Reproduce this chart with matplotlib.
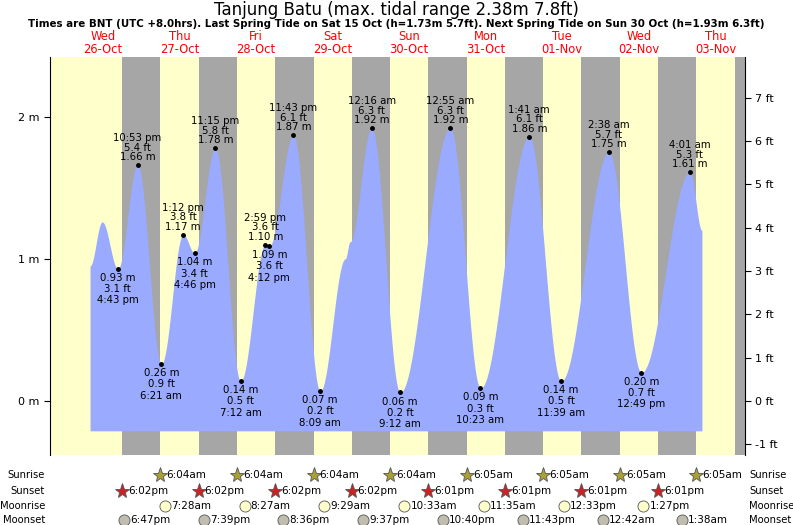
import numpy as np
import matplotlib
matplotlib.use("Agg")
import matplotlib.pyplot as plt

# hours since 00:00 Wed 26-Oct
tide_hours = [8.0, 11.8, 16.72, 22.88, 30.35, 37.2, 40.77, 47.25, 55.2, 62.98, 64.2, 71.72,
              80.15, 88.0, 89.5, 96.27, 105.2, 120.92, 130.38, 145.68, 155.65, 170.63, 180.82, 196.02, 199.8]
tide_m = [0.95, 1.26, 0.93, 1.66, 0.26, 1.17, 1.04, 1.78, 0.14, 1.10, 1.09, 1.87,
          0.07, 1.0, 1.12, 1.92, 0.06, 1.92, 0.09, 1.86, 0.14, 1.75, 0.20, 1.61, 1.2]
# labelled extremes
ext_hours = [16.72, 22.88, 30.35, 37.2, 40.77, 47.25, 55.2, 62.98, 64.2, 71.72, 80.15, 96.27,
             105.2, 120.92, 130.38, 145.68, 155.65, 170.63, 180.82, 196.02]
ext_m = [0.93, 1.66, 0.26, 1.17, 1.04, 1.78, 0.14, 1.10, 1.09, 1.87, 0.07, 1.92,
         0.06, 1.92, 0.09, 1.86, 0.14, 1.75, 0.20, 1.61]
ext_ft = ["3.1", "5.4", "0.9", "3.8", "3.4", "5.8", "0.5", "3.6", "3.6", "6.1", "0.2", "6.3",
          "0.2", "6.3", "0.3", "6.1", "0.5", "5.7", "0.7", "5.3"]
ext_time = ["4:43 pm", "10:53 pm", "6:21 am", "1:12 pm", "4:46 pm", "11:15 pm", "7:12 am", "2:59 pm",
            "4:12 pm", "11:43 pm", "8:09 am", "12:16 am", "9:12 am", "12:55 am", "10:23 am",
            "1:41 am", "11:39 am", "2:38 am", "12:49 pm", "4:01 am"]
ext_high = [False, True, False, True, False, True, False, True, False, True, False, True,
            False, True, False, True, False, True, False, True]

day_names = ["Wed", "Thu", "Fri", "Sat", "Sun", "Mon", "Tue", "Wed", "Thu"]
day_dates = ["26-Oct", "27-Oct", "28-Oct", "29-Oct", "30-Oct", "31-Oct", "01-Nov", "02-Nov", "03-Nov"]

sunrise_h = [24+6+4/60, 48+6+4/60, 72+6+4/60, 96+6+4/60, 120+6+5/60, 144+6+5/60, 168+6+5/60, 192+6+5/60]
sunrise_t = ["6:04am", "6:04am", "6:04am", "6:04am", "6:05am", "6:05am", "6:05am", "6:05am"]
sunset_h = [18+2/60, 42+2/60, 66+2/60, 90+2/60, 114+1/60, 138+1/60, 162+1/60, 186+1/60, 210+1/60]
sunset_t = ["6:02pm", "6:02pm", "6:02pm", "6:02pm", "6:01pm", "6:01pm", "6:01pm", "6:01pm"]
moonrise_h = [31+28/60, 56+27/60, 81+29/60, 106+33/60, 131+35/60, 156+33/60, 181+27/60]
moonrise_t = ["7:28am", "8:27am", "9:29am", "10:33am", "11:35am", "12:33pm", "1:27pm"]
moonset_h = [18+47/60, 43+39/60, 68+36/60, 93+37/60, 118+40/60, 143+43/60, 168+42/60, 193+38/60]
moonset_t = ["6:47pm", "7:39pm", "8:36pm", "9:37pm", "10:40pm", "11:43pm", "12:42am", "1:38am"]

hh = np.linspace(tide_hours[0], tide_hours[-1], 2000)
lv = np.empty_like(hh)
for i, h in enumerate(hh):
    k = min(np.searchsorted(tide_hours, h, side="right") - 1, len(tide_hours) - 2)
    h0, h1 = tide_hours[k], tide_hours[k+1]
    v0, v1 = tide_m[k], tide_m[k+1]
    f = (h - h0) / (h1 - h0)
    lv[i] = v0 + (v1 - v0) * (1 - np.cos(np.pi * f)) / 2

fig = plt.figure(figsize=(7.93, 5.25), dpi=100)
ax = fig.add_axes([50/793, 70/525, 695/793, 398/525])
xmin, xmax = -4.55, 213.3
ymin, ymax = -0.38, 2.42
ax.set_xlim(xmin, xmax)
ax.set_ylim(ymin, ymax)
ax.set_facecolor("#ffffcc")
nights = [(sunset_h[i], sunrise_h[i]) for i in range(8)] + [(sunset_h[8], xmax + 5)]
for a, b in nights:
    ax.axvspan(a, b, color="#a6a6a6", lw=0, zorder=0)
ax.fill_between(hh, -0.21, lv, color="#99aaff", lw=0, zorder=1)

fs = 7.3
for h, m, ft, t, hi in zip(ext_hours, ext_m, ext_ft, ext_time, ext_high):
    ax.plot(h, m, "o", color="black", ms=2.5, zorder=3)
    if hi:
        ax.annotate(f"{t}\n{ft} ft\n{m:.2f} m", (h, m), xytext=(0, 2), textcoords="offset points",
                    ha="center", va="bottom", fontsize=fs, linespacing=0.95, zorder=4)
    else:
        ax.annotate(f"{m:.2f} m\n{ft} ft\n{t}", (h, m), xytext=(0, -3), textcoords="offset points",
                    ha="center", va="top", fontsize=fs, linespacing=1.15, zorder=4)

ax.set_xticks([])
ax.set_yticks([0, 1, 2])
ax.set_yticklabels(["0 m", "1 m", "2 m"], fontsize=8)
ax.tick_params(axis="y", direction="out", length=4)
for s in ["top", "right", "bottom"]:
    ax.spines[s].set_visible(False)

ax2 = ax.twinx()
ax2.set_ylim(ymin * 3.28084, ymax * 3.28084)
ax2.set_yticks(range(-1, 8))
ax2.set_yticklabels([f"{v} ft" for v in range(-1, 8)], fontsize=8)
ax2.tick_params(axis="y", direction="out", length=4)
for s in ["top", "left", "bottom"]:
    ax2.spines[s].set_visible(False)

for i, (n, d) in enumerate(zip(day_names, day_dates)):
    ax.text(i*24 + 12, ymax + 0.01, f"{n}\n{d}", color="red", ha="center", va="bottom",
            fontsize=8.3, linespacing=1.0, clip_on=False)

fig.text(0.5, 1 - 10/525, "Tanjung Batu (max. tidal range 2.38m 7.8ft)", ha="center", va="center", fontsize=12)
fig.text(0.5, 1 - 24/525, "Times are BNT (UTC +8.0hrs). Last Spring Tide on Sat 15 Oct (h=1.73m 5.7ft). Next Spring Tide on Sun 30 Oct (h=1.93m 6.3ft)",
         ha="center", va="center", fontsize=7.4, fontweight="bold")

def xf(h):
    return (50 + (h - xmin) / (xmax - xmin) * 695) / 793

rows = [("Sunrise", 475, sunrise_h, sunrise_t, "*", "#aaa033", 11),
        ("Sunset", 491, sunset_h[:8], sunset_t, "*", "#cc2222", 11),
        ("Moonrise", 506, moonrise_h, moonrise_t, "o", "#ffffcc", 8),
        ("Moonset", 520, moonset_h, moonset_t, "o", "#c0bcb0", 8)]
for name, ypx, hs, ts, mk, col, ms in rows:
    yf = 1 - ypx/525
    fig.text(45/793, yf, name, ha="right", va="center", fontsize=7.2)
    fig.text(749/793, yf, name, ha="left", va="center", fontsize=7.2)
    for h, t in zip(hs, ts):
        fig.lines.append(plt.Line2D([xf(h)], [yf], marker=mk, color=col, markeredgecolor="#555555",
                                    markeredgewidth=0.6, ms=ms, transform=fig.transFigure))
        fig.text(xf(h) + 6/793, yf, t, ha="left", va="center", fontsize=7.5)

fig.savefig("out.png", dpi=100)
